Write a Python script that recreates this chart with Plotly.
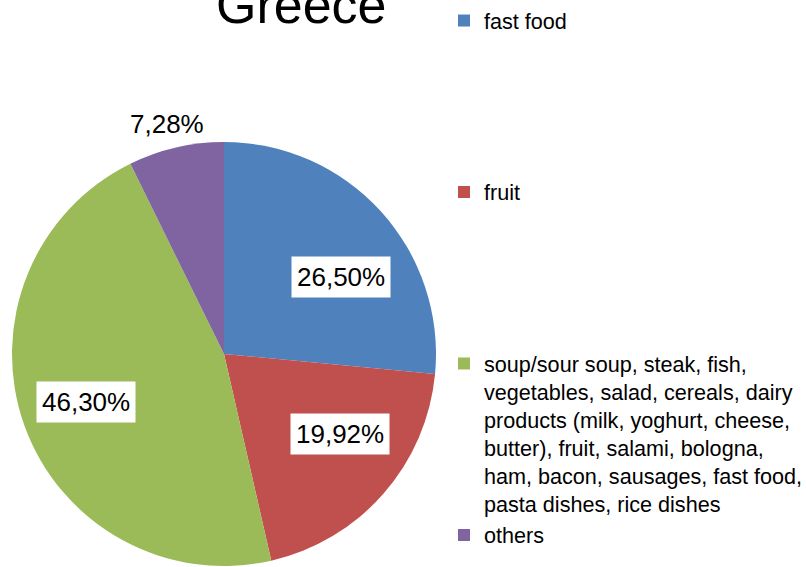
import math
import plotly.graph_objects as go

# Share of food types mentioned (Greece), in percent
categories = [
    "fast food",
    "fruit",
    "soup/sour soup, steak, fish,<br>vegetables, salad, cereals, dairy<br>products (milk, yoghurt, cheese,<br>butter), fruit, salami, bologna,<br>ham, bacon, sausages, fast food,<br>pasta dishes, rice dishes",
    "others",
]
values = [26.50, 19.92, 46.30, 7.28]
colors = ["#4F81BD", "#C0504D", "#9BBB59", "#8064A2"]

W, H = 806, 567
FONT = "Liberation Sans, Arial, sans-serif"

# pie box in pixels (left, right, top, bottom)
PIE_L, PIE_R, PIE_T, PIE_B = 12, 436, 142, 566
cx, cy = (PIE_L + PIE_R) / 2, (PIE_T + PIE_B) / 2
R = (PIE_R - PIE_L) / 2

# label placement: radial fraction and angular nudge (degrees) per slice
label_radius = [0.66, 0.665, 0.69, 1.12]
label_shift = [8.7, -6.7, 0.3, -0.8]
label_boxed = [True, True, True, False]

# legend labels padded with blank lines so entries spread down the page
def pad(label, total_lines=6):
    n = label.count("<br>") + 1
    return label + "<br>\u00a0" * max(0, total_lines - n)

legend_labels = [pad(c) for c in categories[:-1]] + [categories[-1]]

fig = go.Figure(
    go.Pie(
        labels=legend_labels,
        values=values,
        sort=False,
        direction="clockwise",
        rotation=0,
        marker=dict(colors=colors, line=dict(color="white", width=0)),
        textinfo="none",
        hoverinfo="label+percent",
        domain=dict(x=[PIE_L / W, PIE_R / W], y=[1 - PIE_B / H, 1 - PIE_T / H]),
    )
)

# percentage labels
total = sum(values)
cum = 0.0
for v, fr, sh, boxed in zip(values, label_radius, label_shift, label_boxed):
    mid = (cum + v / 2) / total * 360 + sh
    cum += v
    th = math.radians(mid)
    px = cx + fr * R * math.sin(th)
    py = cy - fr * R * math.cos(th)
    fig.add_annotation(
        x=px / W, y=1 - py / H, xref="paper", yref="paper",
        text=f"{v:.2f}".replace(".", ",") + "%",
        showarrow=False, xanchor="center", yanchor="middle",
        font=dict(family=FONT, size=26, color="black"),
        bgcolor="white" if boxed else "rgba(0,0,0,0)",
        borderpad=5,
    )

# chart title
fig.add_annotation(
    x=301 / W, y=1 - 5 / H, xref="paper", yref="paper",
    text="Greece", showarrow=False, xanchor="center", yanchor="middle",
    font=dict(family=FONT, size=52, color="black"),
)

fig.update_layout(
    width=W, height=H,
    margin=dict(l=0, r=0, t=0, b=0, autoexpand=False),
    paper_bgcolor="white",
    plot_bgcolor="white",
    showlegend=True,
    legend=dict(
        x=444 / W, y=1.0, xanchor="left", yanchor="top",
        font=dict(family=FONT, size=21.6, color="black"),
        valign="top",
        bgcolor="rgba(0,0,0,0)",
        traceorder="normal",
    ),
)

fig.write_html("out.html")
